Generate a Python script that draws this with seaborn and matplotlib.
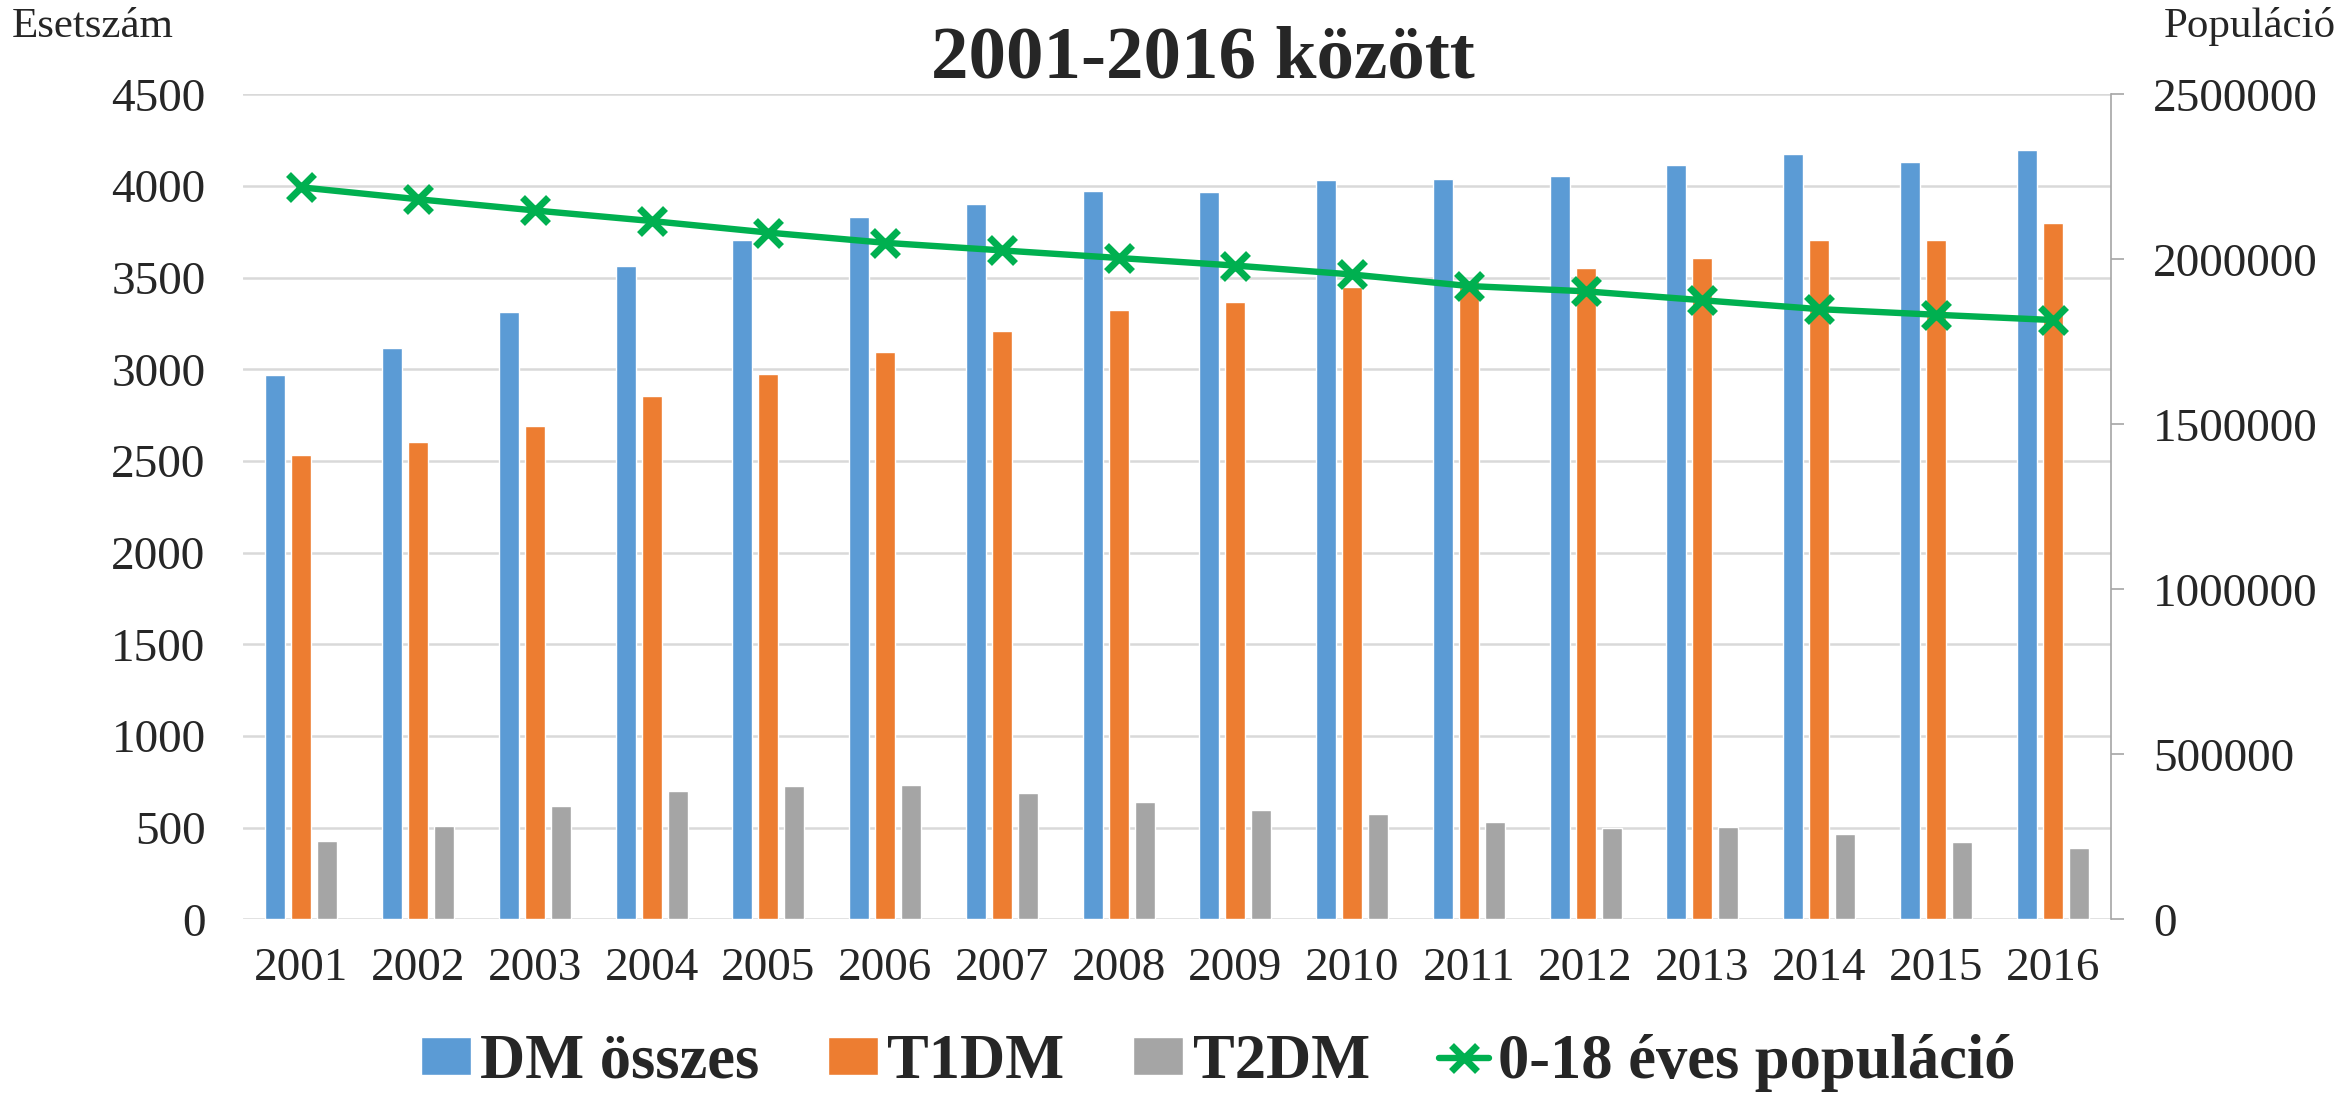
import numpy as np
import pandas as pd
import matplotlib
matplotlib.use('Agg')
import matplotlib.pyplot as plt
import seaborn as sns

# adatok
years = [str(y) for y in range(2001, 2017)]
dm_osszes = [2968, 3115, 3313, 3562, 3706, 3829, 3902, 3973, 3967, 4033, 4037, 4054, 4116, 4176, 4129, 4195]
t1dm = [2532, 2604, 2690, 2855, 2973, 3093, 3208, 3322, 3366, 3450, 3485, 3551, 3609, 3704, 3704, 3797]
t2dm = [427, 507, 618, 700, 727, 732, 689, 641, 596, 573, 532, 500, 503, 465, 420, 389]
populacio = [2218000, 2182000, 2148000, 2116000, 2081000, 2050000, 2027000, 2004000,
             1981000, 1954000, 1919000, 1903000, 1876000, 1849000, 1832000, 1816000]
series_names = ['DM összes', 'T1DM', 'T2DM']
line_name = '0-18 éves populáció'

colors = ['#5B9BD5', '#ED7D31', '#A5A5A5']
green = '#00B050'

sns.set_style('white')
plt.rcParams['font.family'] = ['Liberation Serif', 'DejaVu Serif']

df = pd.DataFrame({'év': years * 3,
                   'érték': dm_osszes + t1dm + t2dm,
                   'típus': [s for s in series_names for _ in years]})
df_pop = pd.DataFrame({'év': years, 'pop': populacio})

fig = plt.figure(figsize=(23.41, 10.95), dpi=100)
ax = fig.add_axes([243/2341, 1 - 919.3/1095, (2111 - 243)/2341, (919.3 - 94.3)/1095])

sns.barplot(data=df, x='év', y='érték', hue='típus', palette=colors, width=0.667, gap=0.23,
            ax=ax, saturation=1, legend=True)
bar_leg = ax.get_legend()
bar_handles = bar_leg.legend_handles
bar_labels = [t.get_text() for t in bar_leg.get_texts()]
bar_leg.remove()

ax.set_ylim(0, 4500)
ax.set_xlim(-0.5, 15.5)
ax.set_yticks(np.arange(0, 4501, 500))
ax.yaxis.grid(True, color='#D9D9D9', linewidth=1.8)
ax.set_axisbelow(True)
for s in ax.spines.values():
    s.set_visible(False)
ax.tick_params(axis='both', length=0, labelsize=34)
ax.tick_params(axis='y', pad=27)
ax.tick_params(axis='x', pad=20)
ax.set_xlabel('')
ax.set_ylabel('')

ax2 = ax.twinx()
sns.lineplot(data=df_pop, x='év', y='pop', ax=ax2, color=green, linewidth=4.6, marker='x',
             markersize=19, markeredgewidth=5, markeredgecolor=green, label=line_name, sort=False)
line_handles, line_labels = ax2.get_legend_handles_labels()
if ax2.get_legend() is not None:
    ax2.get_legend().remove()
ax2.set_ylim(0, 2500000)
ax2.set_yticks(np.arange(0, 2500001, 500000))
ax2.set_ylabel('')
ax2.grid(False)
for k in ['top', 'left', 'bottom']:
    ax2.spines[k].set_visible(False)
ax2.spines['right'].set_color('#A6A6A6')
ax2.spines['right'].set_linewidth(1.2)
ax2.tick_params(axis='y', direction='out', length=9.5, width=1.2, color='#A6A6A6', labelsize=34, pad=21)
ax2.yaxis.set_major_formatter(matplotlib.ticker.FuncFormatter(lambda v, p: f'{int(v)}'))

# tengelyfeliratok es cim
fig.text(12/2341, 1 - 27/1095, 'Esetszám', fontsize=31, ha='left', va='center')
fig.text(2336/2341, 1 - 27/1095, 'Populáció', fontsize=31, ha='right', va='center')
fig.text(1203/2341, 1 - 60/1095, '2001-2016 között', fontsize=54, fontweight='bold',
         ha='center', va='center')

fig.legend(bar_handles + line_handles, bar_labels + line_labels, loc='center',
           bbox_to_anchor=(1218/2341, 1 - 1063/1095), ncol=4, frameon=False,
           prop={'size': 45, 'weight': 'bold'}, handlelength=0.8, handleheight=0.55,
           handletextpad=0.15, columnspacing=1.1, borderaxespad=0)

fig.savefig('out.png', dpi=100)
